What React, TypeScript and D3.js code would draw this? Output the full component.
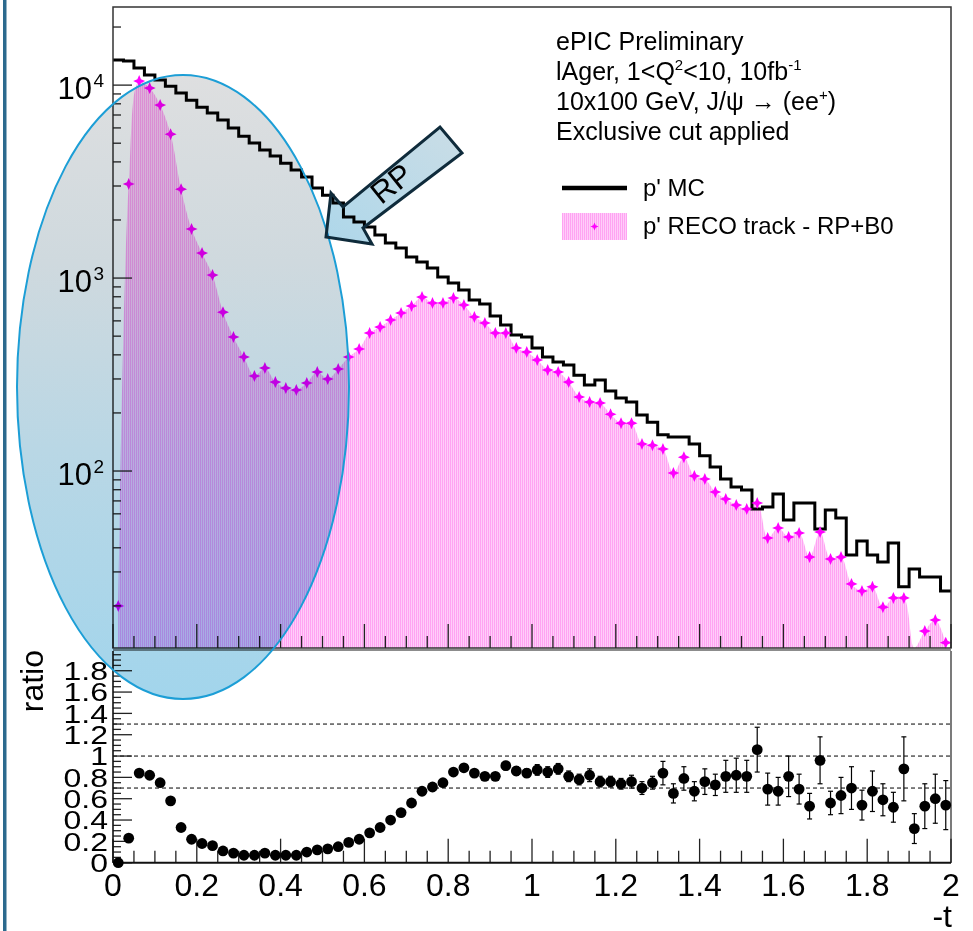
import React from "react";
import * as d3 from "d3";

// ---------------- data ----------------
const tMin = 0;
const tMax = 2;
const binWidth = 0.025;

// p' MC (black step histogram), 80 bins of 0.025 in -t
const mcCounts = [
  13480, 13320, 12250, 11270, 10620, 9880, 9090, 8360, 7690, 7160,
  6590, 5990, 5440, 5010, 4610, 4290, 3940, 3630, 3340, 2930,
  2690, 2450, 2070, 1950, 1840, 1670, 1520, 1430, 1285, 1210,
  1127, 1012, 942, 867, 769, 733, 636, 571, 507, 495,
  434, 390, 367, 354, 314, 279, 296, 260, 239, 228,
  195, 179, 154, 150, 150, 138, 120, 105, 90.9, 82.6,
  79.7, 63.6, 65.1, 76.0, 55.7, 68.3, 68.3, 50.1, 62.8, 57.1,
  36.7, 43.4, 36.7, 33.8, 42.4, 25.1, 31.1, 28.2, 28.2, 23.9,
];

// p' RECO track - RP+B0 (magenta markers + filled smooth curve)
const recoCounts = [
  20.0, 3070, 10490, 9650, 7880, 5570, 2890, 1795, 1347, 1036,
  666, 495, 390, 311, 342, 289, 269, 263, 286, 326,
  300, 338, 390, 429, 519, 557, 606, 659, 716, 797,
  742, 742, 788, 725, 628, 585, 519, 519, 434, 414,
  376, 334, 326, 289, 242, 228, 225, 197, 177, 177,
  138, 136, 130, 97.6, 118, 94.2, 90.9, 77.8, 71.6, 66.6,
  63.6, 68.3, 45.0, 50.7, 45.5, 47.7, 35.8, 48.3, 35.0, 35.8,
  26.0, 23.9, 25.1, 19.7, 22.0, 22.0, 10.0, 14.8, 16.9, 12.9,
];

// ratio panel
const ratioValues = [
  0.0, 0.23, 0.84, 0.82, 0.75, 0.58, 0.33, 0.22, 0.18, 0.16,
  0.11, 0.09, 0.07, 0.07, 0.09, 0.07, 0.07, 0.07, 0.10, 0.12,
  0.13, 0.15, 0.19, 0.22, 0.28, 0.33, 0.40, 0.47, 0.56, 0.67,
  0.71, 0.75, 0.85, 0.89, 0.84, 0.81, 0.81, 0.91, 0.86, 0.84,
  0.87, 0.85, 0.88, 0.81, 0.78, 0.82, 0.76, 0.76, 0.74, 0.76,
  0.70, 0.75, 0.84, 0.65, 0.79, 0.67, 0.76, 0.73, 0.81, 0.82,
  0.81, 1.06, 0.69, 0.67, 0.81, 0.69, 0.53, 0.96, 0.56, 0.63,
  0.70, 0.54, 0.67, 0.59, 0.52, 0.88, 0.32, 0.53, 0.60, 0.54,
];
const ratioErrors = [
  0.005, 0.01, 0.01, 0.01, 0.01, 0.01, 0.01, 0.01, 0.01, 0.01,
  0.01, 0.01, 0.01, 0.01, 0.01, 0.01, 0.01, 0.01, 0.01, 0.01,
  0.01, 0.02, 0.02, 0.02, 0.02, 0.02, 0.02, 0.02, 0.02, 0.02,
  0.02, 0.02, 0.02, 0.03, 0.03, 0.03, 0.03, 0.04, 0.04, 0.04,
  0.05, 0.05, 0.05, 0.05, 0.05, 0.06, 0.05, 0.05, 0.05, 0.06,
  0.06, 0.06, 0.11, 0.09, 0.11, 0.09, 0.12, 0.10, 0.15, 0.16,
  0.15, 0.21, 0.15, 0.13, 0.19, 0.14, 0.12, 0.22, 0.11, 0.17,
  0.20, 0.14, 0.19, 0.15, 0.14, 0.30, 0.14, 0.21, 0.23, 0.23,
];
const ratioRefLines = [0.7, 1.0, 1.3];

const xTickValues = [0, 0.2, 0.4, 0.6, 0.8, 1, 1.2, 1.4, 1.6, 1.8, 2];
const xTickLabels = ["0", "0.2", "0.4", "0.6", "0.8", "1", "1.2", "1.4", "1.6", "1.8", "2"];
const ratioTickValues = [0, 0.2, 0.4, 0.6, 0.8, 1, 1.2, 1.4, 1.6, 1.8];
const ratioTickLabels = ["0", "0.2", "0.4", "0.6", "0.8", "1", "1.2", "1.4", "1.6", "1.8"];
const logDecades = [2, 3, 4];

const yLogMin = 12.1;
const yLogMax = 25400;
const ratioMin = 0;
const ratioMax = 1.985;

const FONT = "'Liberation Sans', Arial, Helvetica, sans-serif";

function star(cx: number, cy: number, r: number) {
  const i = r * 0.3;
  return `M${cx},${cy - r}L${cx + i},${cy - i}L${cx + r},${cy}L${cx + i},${cy + i}L${cx},${cy + r}L${cx - i},${cy + i}L${cx - r},${cy}L${cx - i},${cy - i}Z`;
}

export default function App() {
  const W = 973, H = 931;
  const left = 113, right = 951;
  const topY = 7, topBottom = 648;
  const ratTop = 651, ratBottom = 862.7;

  const x = d3.scaleLinear().domain([tMin, tMax]).range([left, right]);
  const yTop = d3.scaleLog().domain([yLogMin, yLogMax]).range([topBottom, topY]);
  const yRat = d3.scaleLinear().domain([ratioMin, ratioMax]).range([ratBottom, ratTop]);

  const bins = d3.range(mcCounts.length);
  const centers = bins.map((k) => (k + 0.5) * binWidth);

  // MC step line
  const stepPts: [number, number][] = bins.map((k) => [x(k * binWidth), yTop(mcCounts[k])]);
  stepPts.push([x(mcCounts.length * binWidth), yTop(mcCounts[mcCounts.length - 1])]);
  const stepPath = d3.line().curve(d3.curveStepAfter)(stepPts) || "";

  // RECO smooth area
  const yClamp = (v: number) => (v >= yLogMin ? yTop(v) : topBottom);
  const areaGen = d3
    .area<number>()
    .x((k) => x(centers[k]))
    .y0(topBottom)
    .y1((k) => yClamp(recoCounts[k]))
    .curve(d3.curveCatmullRom.alpha(0.5));
  const areaPath = areaGen(bins) || "";

  // ticks
  const xMinor = d3.range(0, 2.0001, 0.05).filter((v) => Math.abs(v / 0.2 - Math.round(v / 0.2)) > 1e-6);
  const logMinor: number[] = [];
  for (let e = 1; e <= 4; e++) for (let m = 2; m <= 9; m++) {
    const v = m * Math.pow(10, e);
    if (v >= yLogMin && v <= yLogMax) logMinor.push(v);
  }
  const ratMinor = d3.range(0, ratioMax, 0.05).filter((v) => Math.abs(v / 0.2 - Math.round(v / 0.2)) > 1e-6);

  const tickColor = "#222";

  return (
    <svg width={W} height={H} style={{ position: "absolute", left: 0, top: 0, display: "block", background: "#fff" }}>
      <defs>
        <pattern id="pinkHatch" width="2" height="2" patternUnits="userSpaceOnUse">
          <rect width="2" height="2" fill="#ffcdf9" />
          <rect x="0" y="0" width="1" height="2" fill="#ffa3f2" />
        </pattern>
        <clipPath id="topClip">
          <rect x={left} y={topY} width={right - left} height={topBottom - topY} />
        </clipPath>
        <linearGradient id="ellGrad" x1="0" y1="0" x2="0" y2="1">
          <stop offset="0" stopColor="#dedfe0" />
          <stop offset="0.3" stopColor="#cfd9de" />
          <stop offset="0.6" stopColor="#b9d7e5" />
          <stop offset="1" stopColor="#a2d5ec" />
        </linearGradient>
        <linearGradient id="arrowGrad" x1="0" y1="1" x2="1" y2="0">
          <stop offset="0" stopColor="#aed7ea" />
          <stop offset="1" stopColor="#cadde6" />
        </linearGradient>
      </defs>

      <rect x={0} y={0} width={W} height={H} fill="#fff" />
      {/* slide frame line */}
      <rect x={3} y={0} width={3.5} height={H} fill="#2c6a8e" />

      {/* ---------- top panel ---------- */}
      <g clipPath="url(#topClip)">
        <path d={areaPath} fill="url(#pinkHatch)" />
        <path d={stepPath} fill="none" stroke="#000" strokeWidth={3} />
      </g>
      {bins
        .filter((k) => recoCounts[k] >= yLogMin)
        .map((k) => (
          <path key={"s" + k} d={star(x(centers[k]), yTop(recoCounts[k]), 6)} fill="#ff00ff" />
        ))}

      {/* frame */}
      <rect x={left} y={topY} width={right - left} height={topBottom - topY} fill="none" stroke="#333" strokeWidth={1.5} />
      <line x1={left} x2={right} y1={650} y2={650} stroke="#8c8c8c" strokeWidth={2} />
      {/* top x ticks */}
      {xTickValues.map((v) => (
        <line key={"tx" + v} x1={x(v)} x2={x(v)} y1={topBottom} y2={topBottom - 24} stroke={tickColor} strokeWidth={1.3} />
      ))}
      {xMinor.map((v) => (
        <line key={"txm" + v} x1={x(v)} x2={x(v)} y1={topBottom} y2={topBottom - 12} stroke={tickColor} strokeWidth={1.3} />
      ))}
      {/* top y ticks */}
      {logDecades.map((e) => (
        <line key={"ty" + e} x1={left} x2={left + 19} y1={yTop(Math.pow(10, e))} y2={yTop(Math.pow(10, e))} stroke={tickColor} strokeWidth={1.3} />
      ))}
      {logMinor.map((v) => (
        <line key={"tym" + v} x1={left} x2={left + 8} y1={yTop(v)} y2={yTop(v)} stroke={tickColor} strokeWidth={1.3} />
      ))}
      {logDecades.map((e) => (
        <text key={"tl" + e} fontFamily={FONT} fill="#000">
          <tspan x={92} y={yTop(Math.pow(10, e)) + 14} fontSize={31} textAnchor="end">10</tspan>
          <tspan x={93.5} y={yTop(Math.pow(10, e)) + 2} fontSize={19}>{String(e)}</tspan>
        </text>
      ))}

      {/* ---------- ratio panel ---------- */}
      <line x1={right} x2={right} y1={ratTop} y2={ratBottom} stroke="#333" strokeWidth={1.3} />
      {ratioRefLines.map((v) => (
        <line key={"rl" + v} x1={left} x2={right} y1={yRat(v)} y2={yRat(v)} stroke="#000" strokeWidth={1} strokeDasharray="4 3" />
      ))}
      {xTickValues.map((v) => (
        <line key={"rx" + v} x1={x(v)} x2={x(v)} y1={ratBottom} y2={ratBottom - 24} stroke={tickColor} strokeWidth={1.3} />
      ))}
      {xMinor.map((v) => (
        <line key={"rxm" + v} x1={x(v)} x2={x(v)} y1={ratBottom} y2={ratBottom - 12} stroke={tickColor} strokeWidth={1.3} />
      ))}
      {ratioTickValues.map((v) => (
        <line key={"ry" + v} x1={left} x2={left + 19} y1={yRat(v)} y2={yRat(v)} stroke={tickColor} strokeWidth={1.3} />
      ))}
      {ratMinor.map((v) => (
        <line key={"rym" + v} x1={left} x2={left + 8} y1={yRat(v)} y2={yRat(v)} stroke={tickColor} strokeWidth={1.3} />
      ))}
      <line x1={left} x2={right} y1={ratBottom} y2={ratBottom} stroke="#111" strokeWidth={2} />
      <line x1={left} x2={left} y1={ratTop} y2={ratBottom} stroke="#111" strokeWidth={1.6} />

      {/* error bars + points */}
      {bins.map((k) => {
        const cx = x(centers[k]);
        const y1 = yRat(Math.max(ratioMin, ratioValues[k] - ratioErrors[k]));
        const y2 = yRat(ratioValues[k] + ratioErrors[k]);
        return (
          <g key={"rp" + k}>
            <line x1={cx} x2={cx} y1={y1} y2={y2} stroke="#000" strokeWidth={1.2} />
            <line x1={cx - 2.5} x2={cx + 2.5} y1={y1} y2={y1} stroke="#000" strokeWidth={1.2} />
            <line x1={cx - 2.5} x2={cx + 2.5} y1={y2} y2={y2} stroke="#000" strokeWidth={1.2} />
            <circle cx={cx} cy={yRat(ratioValues[k])} r={5.4} fill="#000" />
          </g>
        );
      })}

      {/* x tick labels */}
      {xTickValues.map((v, i) => (
        <text key={"xl" + v} x={x(v)} y={896} fontFamily={FONT} fontSize={32} textAnchor="middle" fill="#000">
          {xTickLabels[i]}
        </text>
      ))}
      {/* ratio y labels (vertically squeezed as in reference) */}
      {ratioTickValues.map((v, i) => (
        <text key={"yl" + v} transform={`translate(108,${yRat(v)}) scale(1,0.8)`} dy="0.36em" fontFamily={FONT} fontSize={32} textAnchor="end" fill="#000">
          {ratioTickLabels[i]}
        </text>
      ))}
      <text transform="translate(43,650) rotate(-90)" fontFamily={FONT} fontSize={32} textAnchor="end" fill="#000">ratio</text>
      <text x={952} y={927} fontFamily={FONT} fontSize={32} textAnchor="end" fill="#000">-t</text>

      {/* ---------- annotations ---------- */}
      <ellipse cx={183} cy={387} rx={166} ry={312} fill="url(#ellGrad)" style={{ mixBlendMode: "multiply" }} />
      <ellipse cx={183} cy={387} rx={166} ry={312} fill="none" stroke="#1c9ed6" strokeWidth={2} />

      <polygon
        points="326,237 331,193 343,207 440,127 462,153 363,228 372,244"
        fill="url(#arrowGrad)"
        style={{ mixBlendMode: "multiply" }}
      />
      <polygon
        points="326,237 331,193 343,207 440,127 462,153 363,228 372,244"
        fill="none"
        stroke="#0f2b3b"
        strokeWidth={3}
        strokeLinejoin="miter"
      />
      <text transform="translate(391,183) rotate(-39)" dy="0.36em" fontFamily={FONT} fontSize={31} textAnchor="middle" fill="#000">RP</text>

      {/* text block */}
      <g fontFamily={FONT} fontSize={25} fill="#000">
        <text x={556} y={50}>ePIC Preliminary</text>
        <text x={556} y={80}>
          <tspan>{"lAger, 1<Q"}</tspan>
          <tspan dy={-10} fontSize={15}>2</tspan>
          <tspan dy={10}>{"<10, 10fb"}</tspan>
          <tspan dy={-10} fontSize={15}>-1</tspan>
        </text>
        <text x={556} y={110}>
          <tspan>{"10x100 GeV, J/\u03C8 \u2192 (ee"}</tspan>
          <tspan dy={-10} fontSize={15}>+</tspan>
          <tspan dy={10}>)</tspan>
        </text>
        <text x={556} y={140}>Exclusive cut applied</text>
      </g>

      {/* legend */}
      <line x1={562} x2={627} y1={188} y2={188} stroke="#000" strokeWidth={4.5} />
      <text x={643} y={196} fontFamily={FONT} fontSize={24} fill="#000">p' MC</text>
      <rect x={562} y={213} width={65} height={27} fill="url(#pinkHatch)" />
      <path d={star(594.5, 226.5, 4)} fill="#ff00ff" />
      <text x={643} y={234} fontFamily={FONT} fontSize={24} fill="#000">p' RECO track - RP+B0</text>
    </svg>
  );
}
